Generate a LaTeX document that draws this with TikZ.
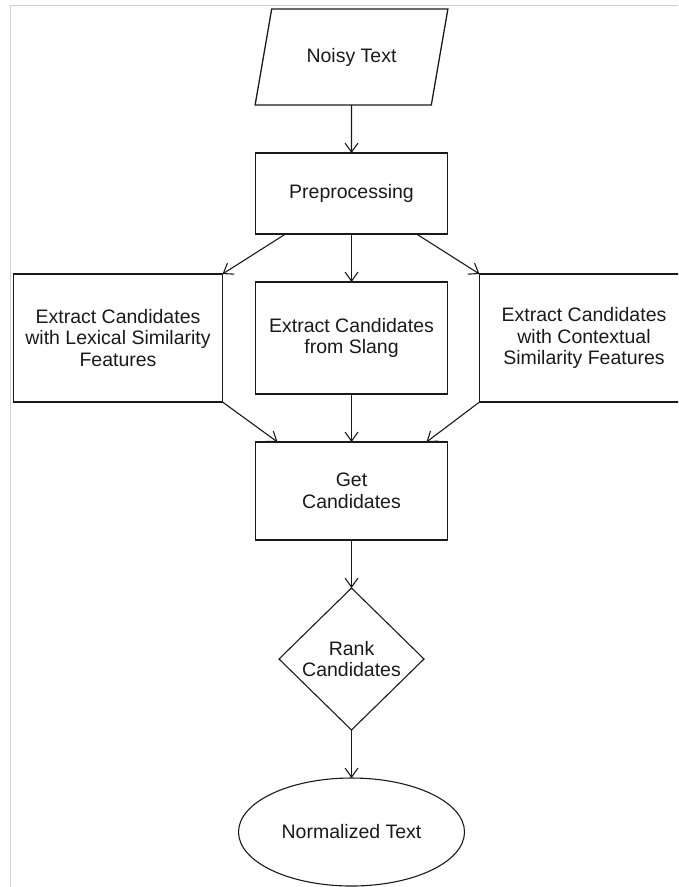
\documentclass[tikz,border=0pt]{standalone}
\usepackage{fontspec}
\setmainfont{Liberation Sans}
\usetikzlibrary{arrows.meta,positioning,shapes.geometric}
\definecolor{InkBlack}{HTML}{1A1A1A}
\definecolor{FrameGray}{HTML}{D0D0D0}

\begin{document}
\begin{tikzpicture}[
    node distance=48pt,
    every node/.style={font=\fontsize{19.5}{21.7}\selectfont,text=InkBlack,outer sep=0pt},
    box/.style={draw=InkBlack,line width=1.3pt,minimum width=192pt,align=center,inner sep=4pt},
    sidebox/.style={box,minimum width=209pt,minimum height=128pt},
    io/.style={draw=InkBlack,line width=1.3pt,trapezium,trapezium left angle=68,trapezium right angle=112,trapezium stretches=true,minimum width=193pt,minimum height=96pt},
    decision/.style={draw=InkBlack,line width=1.1pt,diamond,align=center,inner sep=0pt,minimum width=145pt,minimum height=142pt},
    terminal/.style={draw=InkBlack,line width=1.1pt,ellipse,inner sep=0pt,minimum width=226pt,minimum height=108pt},
    arr/.style={-{Straight Barb[length=9pt,width=13pt]},InkBlack,line width=1.1pt}
  ]
  \path[use as bounding box,clip] (0,0) rectangle (678pt,-887pt);
  \draw[FrameGray,line width=1.5pt] (10.5pt,-887pt) |- (678pt,-5.5pt);

  \node[io] (noisy) at (351.5pt,-57pt) {Noisy Text};
  \node[box,minimum height=81pt,below=of noisy] (prep) {Preprocessing};
  \node[box,minimum height=112pt,below=of prep] (slang) {Extract Candidates\\from Slang};
  \node[sidebox,left=33pt of slang] (lexical) {Extract Candidates\\with Lexical Similarity\\Features};
  \node[sidebox,right=32pt of slang] (context) {Extract Candidates\\with Contextual\\Similarity Features};
  \node[box,minimum height=98pt,below=of slang] (get) {Get\\Candidates};
  \node[decision,below=of get] (rank) {Rank\\Candidates};
  \node[terminal,below=of rank] (norm) {Normalized Text};

  \draw[arr] (noisy) -- (prep);
  \draw[arr] ([xshift=30pt]prep.south west) -- (lexical.north east);
  \draw[arr] (prep) -- (slang);
  \draw[arr] ([xshift=-31pt]prep.south east) -- (context.north west);
  \draw[arr] (lexical.south east) -- ([xshift=22pt]get.north west);
  \draw[arr] (slang) -- (get);
  \draw[arr] (context.south west) -- ([xshift=-21pt]get.north east);
  \draw[arr] (get) -- (rank);
  \draw[arr] (rank) -- (norm);
\end{tikzpicture}
\end{document}
